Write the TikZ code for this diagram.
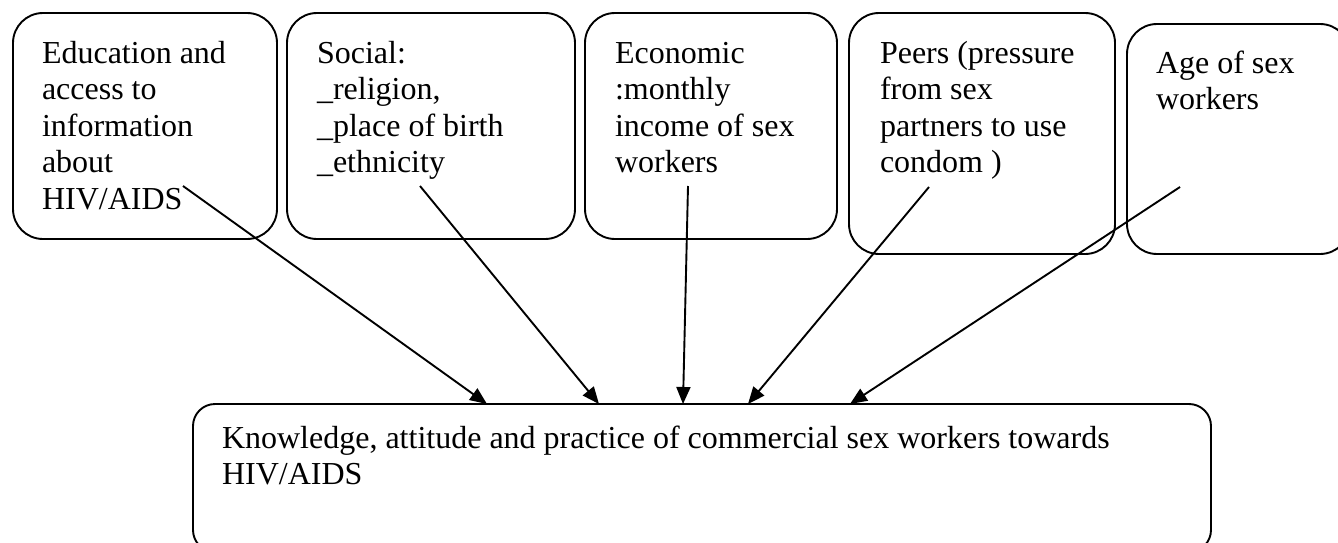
\documentclass[tikz,border=0pt]{standalone}
\usepackage{fontspec}
\setmainfont{Liberation Serif}
\usetikzlibrary{arrows.meta}
\begin{document}
\begin{tikzpicture}[x=1pt,y=-1pt,
  box/.style={draw=black, line width=1.9pt, rounded corners=30pt, inner sep=0pt, outer sep=0pt},
  bigbox/.style={box, rounded corners=22pt},
  txt/.style={anchor=north west, inner sep=0pt, outer sep=0pt, align=left,
    font=\fontsize{32}{36.5}\selectfont},
  arr/.style={line width=1.9pt, -{Triangle[length=17pt,width=14pt]}}
]
\useasboundingbox (0,0) rectangle (1338,543);
\clip (0,0) rectangle (1338,543);
% boxes
\node[box, minimum width=264pt, minimum height=226pt] (b1) at (145,126) {};
\node[box, minimum width=288pt, minimum height=226pt] (b2) at (431,126) {};
\node[box, minimum width=252pt, minimum height=226pt] (b3) at (711,126) {};
\node[box, minimum width=266pt, minimum height=241pt] (b4) at (982,133.5) {};
\node[box, minimum width=223pt, minimum height=230pt] (b5) at (1238.5,139) {};
\node[bigbox, minimum width=1018pt, minimum height=148pt] (k) at (702,478) {};
% texts
\node[txt] (t1) at (42,37.5) {\strut Education and\\access to\\information\\about\\HIV/AIDS};
\node[txt] (t2) at (317,37.5) {\strut Social:\\\_religion,\\\_place of birth\\\_ethnicity};
\node[txt] (t3) at (615,37.5) {\strut Economic\\:monthly\\income of sex\\workers};
\node[txt] (t4) at (880,37.5) {\strut Peers (pressure\\from sex\\partners to use\\condom )};
\node[txt] (t5) at (1156,47.5) {\strut Age of sex\\workers};
\node[txt] (tk) at (222,422.5) {\strut Knowledge, attitude and practice of commercial sex workers towards\\HIV/AIDS};
% connector ends
\coordinate (s1) at (183,186);
\coordinate (s2) at (420,186);
\coordinate (s3) at (688,186);
\coordinate (s4) at (929,187);
\coordinate (s5) at (1180,187);
\coordinate (e1) at (487,404);
\coordinate (e2) at (599,404);
\coordinate (e3) at (683,404);
\coordinate (e4) at (748,404);
\coordinate (e5) at (850,404);
\draw[arr] (s1) -- (e1);
\draw[arr] (s2) -- (e2);
\draw[arr] (s3) -- (e3);
\draw[arr] (s4) -- (e4);
\draw[arr] (s5) -- (e5);
\end{tikzpicture}
\end{document}
